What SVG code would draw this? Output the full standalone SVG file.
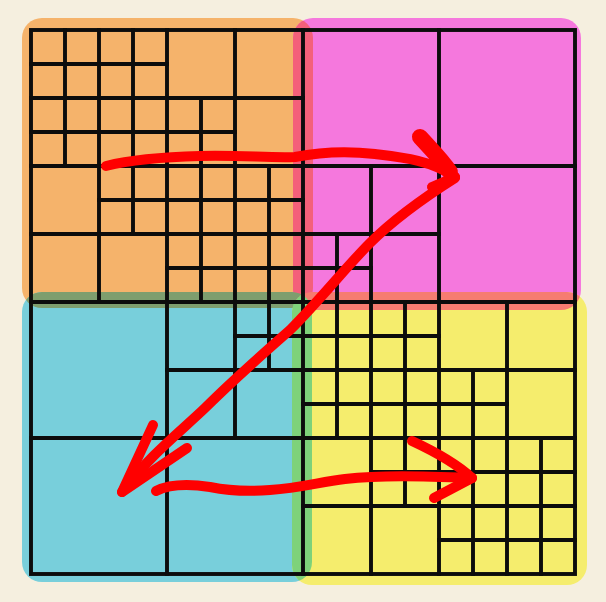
<svg xmlns="http://www.w3.org/2000/svg" width="606" height="602" viewBox="0 0 606 602">
  <style>
    .grid { fill: none; stroke: #0c0c0c; stroke-width: 3.9; stroke-linecap: square; }
    .arrow { fill: none; stroke: #ff0000; stroke-width: 10; stroke-linecap: round; stroke-linejoin: round; }
    .blob { stroke-width: 16; }
  </style>
  <defs>
    <clipPath id="cOrange"><rect x="22" y="18" width="291" height="290" rx="20"/></clipPath>
    <clipPath id="cPink"><rect x="293" y="18" width="288" height="292" rx="20"/></clipPath>
    <clipPath id="cBlue"><rect x="22" y="292" width="290" height="290" rx="20"/></clipPath>
  </defs>
  <rect x="0" y="0" width="606" height="602" fill="#f5efdf"/>
  <g id="q-orange"><rect x="22" y="18" width="291" height="290" rx="20" fill="#f5b36b"/></g>
  <g id="q-pink"><rect x="293" y="18" width="288" height="292" rx="20" fill="#f578dd"/></g>
  <g id="q-blue"><rect x="22" y="292" width="290" height="290" rx="20" fill="#78cfdb"/></g>
  <g id="q-yellow"><rect x="292" y="292" width="295" height="293" rx="20" fill="#f5ed6d"/></g>
  <g id="overlaps">
    <rect x="293" y="18" width="288" height="292" rx="20" fill="#f4607a" clip-path="url(#cOrange)"/>
    <rect x="22" y="292" width="290" height="290" rx="20" fill="#7e9e6e" clip-path="url(#cOrange)"/>
    <rect x="292" y="292" width="295" height="293" rx="20" fill="#f67c70" clip-path="url(#cPink)"/>
    <rect x="292" y="292" width="295" height="293" rx="20" fill="#7ed27a" clip-path="url(#cBlue)"/>
  </g>
  <g id="grid">
    <rect class="grid" x="31" y="30" width="544" height="544"/>
    <path class="grid" d="M65,30V166 M99,30V302 M133,30V234 M167,30V574 M201,98V302 M235,30V438 M269,166V370 M303,30V574 M337,234V438 M371,166V574 M405,302V506 M439,30V574 M473,370V574 M507,302V574 M541,438V574"/>
    <path class="grid" d="M31,64H167 M31,98H303 M31,132H235 M31,166H575 M99,200H303 M31,234H439 M167,268H371 M31,302H575 M235,336H439 M167,370H575 M303,404H507 M31,438H575 M371,472H575 M303,506H575 M439,540H575"/>
  </g>
  <g id="connectors">
    <path class="arrow" d="M106,166 C130,160 160,157 200,156 C240,155 270,158 295,157 C320,152 350,151 375,154 C400,157 432,160 455,177"/>
    <path class="arrow blob" d="M420,137 C432,150 442,160 450,172"/>
    <path class="arrow" d="M432,187 L455,177"/>
    <path class="arrow" d="M455,178 C425,197 395,218 370,243 C345,268 320,300 290,330 C265,352 235,378 205,408 C180,432 150,455 122,492"/>
    <path class="arrow" d="M153,425 L122,492 L187,448"/>
    <path class="arrow" d="M156,491 C170,484 190,484 210,487 C225,490 245,492 270,490 C300,488 320,482 345,479 C380,475 420,476 472,478"/>
    <path class="arrow" d="M412,441 C440,454 458,465 472,478 L434,498"/>
  </g>
</svg>
